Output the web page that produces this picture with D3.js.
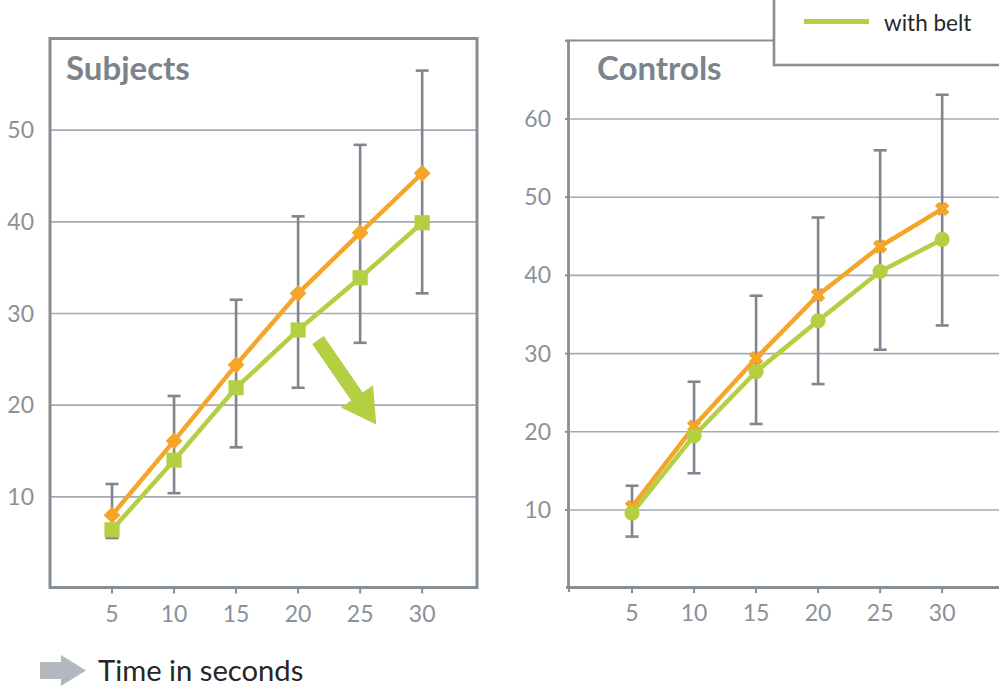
<!DOCTYPE html>
<html>
<head>
<meta charset="utf-8">
<script src="https://cdn.jsdelivr.net/npm/d3@7"></script>
<style>
  html, body { margin: 0; padding: 0; background: #fff; }
  svg { display: block; font-family: Lato, "Open Sans", sans-serif; }
</style>
</head>
<body>
<svg id="chart" width="999" height="694"></svg>
<script>
// ---------------- DATA ----------------
const times = [5, 10, 15, 20, 25, 30];
const xTicks = [5, 10, 15, 20, 25, 30];

const subjectsYTicks = [10, 20, 30, 40, 50];
const subjectsWithout = [8.0, 16.1, 24.4, 32.2, 38.8, 45.3];
const subjectsWith    = [6.4, 14.0, 21.9, 28.2, 33.9, 39.9];
const subjectsErrLow  = [5.5, 10.4, 15.4, 21.9, 26.8, 32.2];
const subjectsErrHigh = [11.4, 21.0, 31.5, 40.6, 48.4, 56.5];

const controlsYTicks = [10, 20, 30, 40, 50, 60];
const controlsWithout = [10.4, 20.7, 29.4, 37.5, 43.7, 48.5];
const controlsWith    = [9.6, 19.5, 27.7, 34.2, 40.5, 44.6];
const controlsErrLow  = [6.6, 14.7, 21.0, 26.1, 30.5, 33.6];
const controlsErrHigh = [13.1, 26.4, 37.4, 47.4, 56.0, 63.1];

// annotation arrow (data coordinates on Subjects panel)
const trendArrow = { x1: 21.6, y1: 27.1, x2: 26.3, y2: 17.9 };

const legendLabels = ["with belt"];
const xLabel = "Time in seconds";

// ---------------- STYLE ----------------
const C = {
  orange: "#f4a52a",
  green: "#b4cf42",
  frame: "#868e96",
  grid: "#a4aab1",
  err: "#7e8690",
  tick: "#8a9199",
  title: "#7b848d",
  text: "#262626",
  grayArrow: "#b3b8bf"
};

const svg = d3.select("#chart");

function drawPanel(opts) {
  const g = svg.append("g");
  const x = d3.scaleLinear().domain([0, 34.5]).range(opts.xRange);
  const y = d3.scaleLinear().domain(opts.yDomain).range(opts.yRange);

  // gridlines
  g.append("g").selectAll("line").data(opts.yTicks).join("line")
    .attr("x1", opts.xRange[0]).attr("x2", opts.gridRight)
    .attr("y1", d => y(d)).attr("y2", d => y(d))
    .attr("stroke", C.grid).attr("stroke-width", 1.6);

  // y tick labels
  g.append("g").selectAll("text").data(opts.yTicks).join("text")
    .attr("x", opts.yLabelX).attr("y", d => y(d) + 8)
    .attr("text-anchor", "end")
    .attr("font-size", 23).attr("fill", C.tick)
    .text(d => d);

  // x ticks
  const xb = opts.yRange[0];
  g.append("g").selectAll("line").data(xTicks).join("line")
    .attr("x1", d => x(d)).attr("x2", d => x(d))
    .attr("y1", xb - 1).attr("y2", xb + 5)
    .attr("stroke", C.frame).attr("stroke-width", 2);
  g.append("g").selectAll("text").data(xTicks).join("text")
    .attr("x", d => x(d)).attr("y", xb + 33)
    .attr("text-anchor", "middle")
    .attr("font-size", 23).attr("fill", C.tick)
    .text(d => d);

  // error bars
  const eb = g.append("g").attr("stroke", C.err).attr("stroke-width", 2.6).attr("fill", "none");
  times.forEach((t, i) => {
    const cx = x(t), lo = y(opts.errLow[i]), hi = y(opts.errHigh[i]);
    eb.append("line").attr("x1", cx).attr("x2", cx).attr("y1", lo).attr("y2", hi);
    eb.append("line").attr("x1", cx - 6.5).attr("x2", cx + 6.5).attr("y1", lo).attr("y2", lo);
    eb.append("line").attr("x1", cx - 6.5).attr("x2", cx + 6.5).attr("y1", hi).attr("y2", hi);
  });

  const line = d3.line().x((d, i) => x(times[i])).y(d => y(d));
  g.append("path").datum(opts.without).attr("d", line)
    .attr("fill", "none").attr("stroke", C.orange).attr("stroke-width", 4.5)
    .attr("stroke-linejoin", "round");
  g.append("path").datum(opts.withB).attr("d", line)
    .attr("fill", "none").attr("stroke", C.green).attr("stroke-width", 4.5)
    .attr("stroke-linejoin", "round");

  // markers
  g.append("g").selectAll("path").data(opts.without).join("path")
    .attr("d", d3.symbol().type(opts.symWithout).size(opts.sizeWithout))
    .attr("transform", (d, i) => `translate(${x(times[i])},${y(d)}) rotate(45)`)
    .attr("fill", C.orange).attr("stroke", C.orange).attr("stroke-width", 1.5)
    .attr("stroke-linejoin", "round");
  g.append("g").selectAll("path").data(opts.withB).join("path")
    .attr("d", d3.symbol().type(opts.symWith).size(opts.sizeWith))
    .attr("transform", (d, i) => `translate(${x(times[i])},${y(d)})`)
    .attr("fill", C.green);

  // title
  g.append("text").attr("x", opts.titleX).attr("y", 80)
    .attr("font-size", 33).attr("font-weight", 700).attr("fill", C.title)
    .text(opts.title);

  return { g, x, y };
}

// ---------- Subjects panel ----------
const left = drawPanel({
  xRange: [50, 478], yDomain: [0, 60], yRange: [588.5, 38.5],
  gridRight: 477, yLabelX: 34, yTicks: subjectsYTicks,
  errLow: subjectsErrLow, errHigh: subjectsErrHigh,
  without: subjectsWithout, withB: subjectsWith,
  symWithout: d3.symbolSquare, sizeWithout: 110,
  symWith: d3.symbolSquare, sizeWith: 230,
  title: "Subjects", titleX: 66
});
// frame
left.g.append("rect").attr("x", 50).attr("y", 38.5).attr("width", 427).attr("height", 549)
  .attr("fill", "none").attr("stroke", C.frame).attr("stroke-width", 3);

// green trend arrow
(function () {
  const x1 = left.x(trendArrow.x1), y1 = left.y(trendArrow.y1);
  const x2 = left.x(trendArrow.x2), y2 = left.y(trendArrow.y2);
  const ang = Math.atan2(y2 - y1, x2 - x1) * 180 / Math.PI;
  const L = Math.hypot(x2 - x1, y2 - y1);
  const sw = 7, hw = 19.5, hl = 34;
  const pts = [[0, -sw], [L - hl, -sw], [L - hl, -hw], [L, 0], [L - hl, hw], [L - hl, sw], [0, sw]];
  left.g.append("path")
    .attr("d", "M" + pts.map(p => p.join(",")).join("L") + "Z")
    .attr("transform", `translate(${x1},${y1}) rotate(${ang})`)
    .attr("fill", C.green);
})();

// ---------- Controls panel ----------
const right = drawPanel({
  xRange: [570, 998], yDomain: [0, 70], yRange: [588.2, 40.8],
  gridRight: 999, yLabelX: 551, yTicks: controlsYTicks,
  errLow: controlsErrLow, errHigh: controlsErrHigh,
  without: controlsWithout, withB: controlsWith,
  symWithout: d3.symbolCross, sizeWithout: 95,
  symWith: d3.symbolCircle, sizeWith: 180,
  title: "Controls", titleX: 597
});
// axes lines
const ra = right.g.append("g").attr("stroke", C.frame);
ra.append("line").attr("x1", 568.5).attr("x2", 568.5).attr("y1", 40).attr("y2", 588.5).attr("stroke-width", 2.8);
ra.append("line").attr("x1", 566).attr("x2", 999).attr("y1", 587.5).attr("y2", 587.5).attr("stroke-width", 2.8);
ra.append("line").attr("x1", 566).attr("x2", 774).attr("y1", 40.5).attr("y2", 40.5).attr("stroke-width", 2.2);
ra.selectAll("line.yt").data(controlsYTicks.concat([70])).join("line").attr("class", "yt")
  .attr("x1", 565).attr("x2", 569).attr("y1", d => right.y(d)).attr("y2", d => right.y(d))
  .attr("stroke-width", 2);
ra.append("line").attr("x1", 569).attr("x2", 569).attr("y1", 587).attr("y2", 592).attr("stroke-width", 2);

// legend box (partially off the top edge)
const lg = svg.append("g");
lg.append("rect").attr("x", 774).attr("y", -20).attr("width", 240).attr("height", 85)
  .attr("fill", "#fff").attr("stroke", C.frame).attr("stroke-width", 2.6);
lg.append("line").attr("x1", 804).attr("x2", 869).attr("y1", 21.5).attr("y2", 21.5)
  .attr("stroke", C.green).attr("stroke-width", 5);
lg.selectAll("text").data(legendLabels).join("text")
  .attr("x", 884).attr("y", 31).attr("font-size", 22.5).attr("fill", C.text)
  .text(d => d);

// bottom x label with gray arrow
const bl = svg.append("g");
bl.append("path")
  .attr("d", "M40,662L61,662L61,655L86,670.5L61,686L61,679L40,679Z")
  .attr("fill", C.grayArrow);
bl.append("text").attr("x", 98).attr("y", 681).attr("font-size", 29.2).attr("fill", C.text)
  .text(xLabel);
</script>
</body>
</html>
